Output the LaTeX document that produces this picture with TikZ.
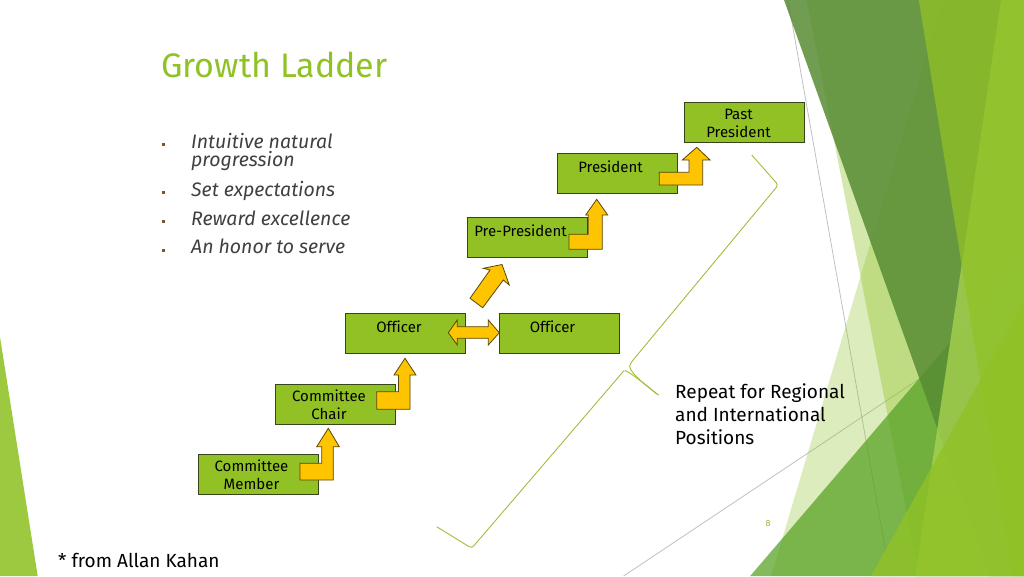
\documentclass[tikz,border=0pt]{standalone}
\usepackage{fontspec}
\setmainfont{Fira Sans}[Ligatures=CommonOff]
\definecolor{accA}{RGB}{144,194,38}
\definecolor{accB}{RGB}{84,160,33}
\definecolor{darkA}{RGB}{88,140,52}
\definecolor{brightA}{RGB}{165,210,80}
\definecolor{boxgreen}{RGB}{145,193,36}
\definecolor{boxline}{RGB}{55,70,25}
\definecolor{arrowfill}{RGB}{255,196,0}
\definecolor{arrowline}{RGB}{90,70,10}
\definecolor{bracegreen}{RGB}{160,190,60}
\definecolor{bullettext}{RGB}{64,64,64}
\definecolor{bulletmark}{RGB}{120,85,50}
\definecolor{thinline}{RGB}{190,190,190}
\tikzset{
  ladderbox/.style={draw=boxline, fill=boxgreen, line width=0.9pt, minimum width=120pt, minimum height=40pt, inner sep=0pt},
  boxtext/.style={inner sep=0pt, align=center, font=\fontsize{15}{18}\selectfont},
  blockarrow/.style={fill=arrowfill, draw=arrowline, line width=0.8pt, line join=miter},
  bullettxt/.style={anchor=base west, inner sep=0pt, text=bullettext, font=\fontsize{19.5}{19.5}\selectfont\itshape},
  bulletsq/.style={fill=bulletmark, draw=none, minimum size=3pt, inner sep=0pt},
  plaintxt/.style={anchor=base west, inner sep=0pt, font=\fontsize{19}{23}\selectfont},
  bgline/.style={draw=thinline, line width=0.75pt},
  bracestyle/.style={draw=bracegreen, line width=0.9pt, rounded corners=3pt},
}
\begin{document}
\begin{tikzpicture}[x=1pt,y=-1pt]
\useasboundingbox (0,0) rectangle (1024,576);
\fill[white] (0,0) rectangle (1024,576);
% background facets
\draw[bgline] (788,0) -- (890,576);
\draw[bgline] (623.6,576) -- (1024,309);
\fill[accA, opacity=0.30] (943,0) -- (1024,0) -- (1024,576) -- (771.1,576) -- cycle;
\fill[accA, opacity=0.38] (806.6,0) -- (1024,0) -- (1024,576) -- (919,576) -- cycle;
\fill[accB, opacity=0.72] (750.2,576) -- (1024,256) -- (1024,576) -- cycle;
\fill[darkA, opacity=0.85] (784,0) -- (1024,0) -- (1024,576) -- (990,576) -- cycle;
\fill[brightA, opacity=0.80] (1001,0) -- (1024,0) -- (1024,576) -- (915.4,576) -- cycle;
\fill[accA, opacity=0.74] (918.8,0) -- (1024,0) -- (1024,576) -- (1012,576) -- cycle;
\fill[accA, opacity=0.80] (871.1,576) -- (1024,301.5) -- (1024,576) -- cycle;
\fill[accA, opacity=0.88] (0,337) -- (37.7,576) -- (0,576) -- cycle;
% title
\node[anchor=base west, inner sep=0pt, text=accA, font=\fontsize{34}{34}\selectfont] (title) at (161,77) {Growth Ladder};
% bullets
\node[bulletsq] (b1) at (163.5,144) {};
\node[bulletsq] (b2) at (163.5,192) {};
\node[bulletsq] (b3) at (163.5,221) {};
\node[bulletsq] (b4) at (163.5,250) {};
\node[bullettxt] (t1) at (191,148) {Intuitive natural};
\node[bullettxt] (t1b) at (191,166) {progression};
\node[bullettxt] (t2) at (191,196) {Set expectations};
\node[bullettxt] (t3) at (191,225) {Reward excellence};
\node[bullettxt] (t4) at (191,253) {An honor to serve};
% brace
\draw[bracestyle] (436.7,526.7) -- (471.7,548.3) -- (621.7,373.3)
  .. controls (625,369.5) and (630,372) .. (658.3,395);
\draw[bracestyle] (658.3,395) .. controls (640,381) and (628,370) .. (631,362.5)
  -- (778.3,185) -- (751.7,155);
% boxes
\node[ladderbox] (cm) at (258,474) {};
\node[ladderbox] (cc) at (335.5,404) {};
\node[ladderbox] (ol) at (405.5,333) {};
\node[ladderbox] (or) at (559,333) {};
\node[ladderbox] (pp) at (527,237) {};
\node[ladderbox] (pr) at (617,173) {};
\node[ladderbox] (pa) at (744,122) {};
\node[boxtext] (cmtext) at ([xshift=-6.5pt,yshift=-1pt]cm.center) {Committee\\Member};
\node[boxtext] (cctext) at ([xshift=-6.5pt,yshift=-1pt]cc.center) {Committee\\Chair};
\node[boxtext] (oltext) at ([xshift=-6.5pt,yshift=6.5pt]ol.center) {Officer};
\node[boxtext] (ortext) at ([xshift=-6.5pt,yshift=6.5pt]or.center) {Officer};
\node[boxtext] (pptext) at ([xshift=-6.5pt,yshift=6.5pt]pp.center) {Pre-President};
\node[boxtext] (prtext) at ([xshift=-6.5pt,yshift=6.5pt]pr.center) {President};
\node[boxtext] (patext) at ([xshift=-5.5pt,yshift=-1.5pt]pa.center) {Past\\President};
% block arrows
\draw[blockarrow] (300,463.3) -- (321.7,463.3) -- (321.7,446.7) -- (316.7,446.7) -- (328.3,428.3) -- (339.3,446.7) -- (333.3,446.7) -- (333.3,480) -- (300,480) -- cycle;
\draw[blockarrow] (376.7,391.7) -- (398.5,391.7) -- (398.5,375) -- (394,375) -- (405,358.3) -- (416,375) -- (410,375) -- (410,409.3) -- (376.7,409.3) -- cycle;
\draw[blockarrow] (448.3,332.7) -- (457.3,320) -- (457.3,326.7) -- (488.3,326.7) -- (488.3,320) -- (499.3,332.7) -- (488.3,345) -- (488.3,338.3) -- (457.3,338.3) -- (457.3,345) -- cycle;
\draw[blockarrow] (470,298.3) -- (490,270) -- (483.3,268.3) -- (502,264.5) -- (509.3,285) -- (503.3,280) -- (482.7,307.7) -- cycle;
\draw[blockarrow] (569,234.3) -- (588.3,234.3) -- (588.3,215) -- (585.7,215) -- (596.7,199.3) -- (607.7,215) -- (602.3,215) -- (602.3,249.3) -- (569,249.3) -- cycle;
\draw[blockarrow] (659.3,172.3) -- (689,172.3) -- (689,160) -- (682.3,160) -- (696.7,147.3) -- (710,160) -- (702.7,160) -- (702.7,185) -- (659.3,185) -- cycle;
% right text
\node[plaintxt] (rep1) at (675,398.3) {Repeat for Regional};
\node[plaintxt] (rep2) at (675,421) {and International};
\node[plaintxt] (rep3) at (675,444.3) {Positions};
\node[plaintxt] (note) at (58,567.7) {* from Allan Kahan};
\node[anchor=base, inner sep=0pt, text=accA, font=\fontsize{9}{9}\selectfont] (pagenum) at (768,526) {8};
\end{tikzpicture}
\end{document}
